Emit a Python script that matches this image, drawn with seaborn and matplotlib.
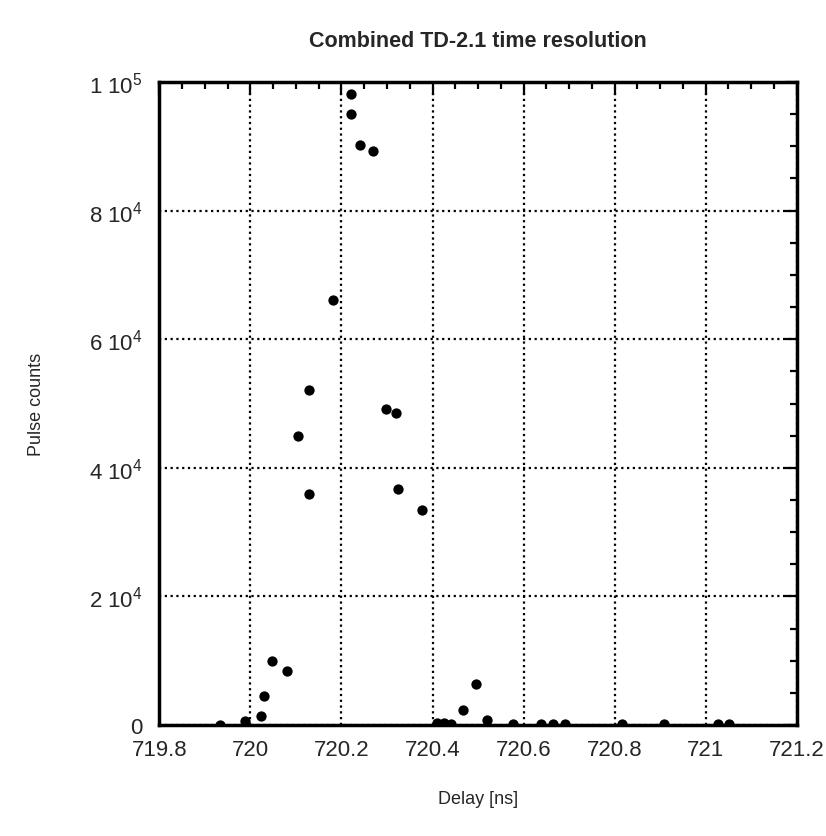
import matplotlib
matplotlib.use("Agg")
import matplotlib.pyplot as plt
from matplotlib.ticker import MultipleLocator, FixedLocator
import seaborn as sns
import pandas as pd

# values
delay_ns = [719.932, 719.989, 720.024, 720.030, 720.048, 720.080, 720.105, 720.128,
            720.128, 720.182, 720.220, 720.221, 720.241, 720.270, 720.297, 720.320,
            720.324, 720.377, 720.410, 720.425, 720.440, 720.467, 720.496, 720.520,
            720.576, 720.639, 720.665, 720.692, 720.816, 720.909, 721.027, 721.051]
pulse_counts = [0, 600, 1450, 4560, 9900, 8450, 45000, 52100,
                36000, 66100, 98200, 95000, 90200, 89300, 49100, 48500,
                36700, 33500, 300, 300, 200, 2300, 6400, 800,
                100, 100, 100, 100, 100, 200, 100, 100]

x_ticks = [719.8, 720.0, 720.2, 720.4, 720.6, 720.8, 721.0, 721.2]
x_tick_labels = ["719.8", "720", "720.2", "720.4", "720.6", "720.8", "721", "721.2"]
y_ticks = [0, 20000, 40000, 60000, 80000, 100000]
y_tick_labels = ["0", r"2 10$^{4}$", r"4 10$^{4}$", r"6 10$^{4}$", r"8 10$^{4}$", r"1 10$^{5}$"]

sns.set_style("white")
plt.rcParams["font.family"] = ["Liberation Sans", "DejaVu Sans"]
plt.rcParams["mathtext.default"] = "regular"

df = pd.DataFrame({"delay": delay_ns, "counts": pulse_counts})

fig = plt.figure(figsize=(8.26, 8.37), dpi=100)
ax = fig.add_axes([0.193, 0.1326, 0.7715, 0.7682])

sns.scatterplot(data=df, x="delay", y="counts", ax=ax, color="black",
                s=55, linewidth=0, zorder=3)

ax.set_xlim(719.8, 721.2)
ax.set_ylim(0, 100000)
ax.xaxis.set_major_locator(FixedLocator(x_ticks))
ax.set_xticklabels(x_tick_labels)
ax.yaxis.set_major_locator(FixedLocator(y_ticks))
ax.set_yticklabels(y_tick_labels)
ax.xaxis.set_minor_locator(MultipleLocator(0.05))
ax.yaxis.set_minor_locator(MultipleLocator(5000))

ax.grid(True, which="major", color="black", linestyle=(0, (1, 1.6)), linewidth=1.6)
ax.tick_params(which="both", direction="in", top=True, right=True, color="black", width=1.6)
ax.tick_params(which="major", length=9, labelsize=16)
ax.tick_params(axis="x", which="major", pad=10)
ax.tick_params(axis="y", which="major", pad=12)
ax.tick_params(which="minor", length=5)
for sp in ax.spines.values():
    sp.set_color("black")
    sp.set_linewidth(2.5)

ax.set_xlabel("Delay [ns]", fontsize=13, labelpad=22)
ax.set_ylabel("Pulse counts", fontsize=13, labelpad=32)
ax.set_title("Combined TD-2.1 time resolution", fontsize=15.5, fontweight="bold", pad=26)

fig.savefig("out.png", dpi=100)
